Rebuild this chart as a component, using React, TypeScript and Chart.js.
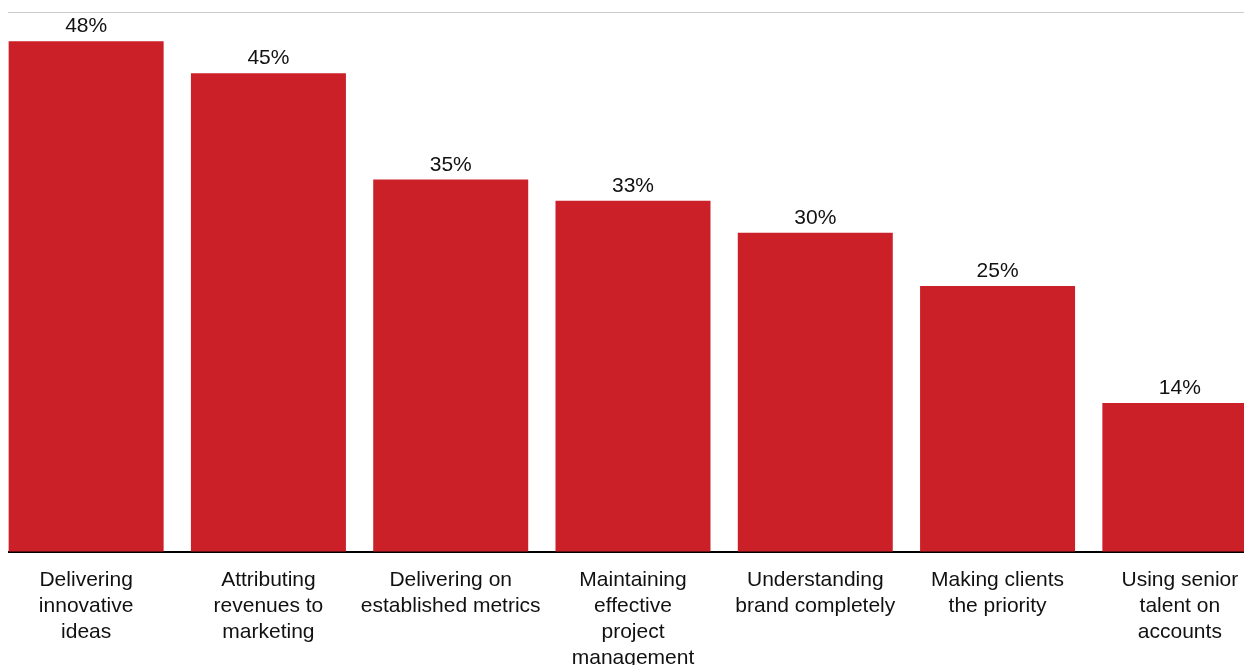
import React, { useEffect, useRef } from "react";
import { Chart, registerables } from "chart.js";

Chart.register(...registerables);

const categories: string[][] = [
  ["Delivering", "innovative", "ideas"],
  ["Attributing", "revenues to", "marketing"],
  ["Delivering on", "established metrics"],
  ["Maintaining", "effective", "project", "management"],
  ["Understanding", "brand completely"],
  ["Making clients", "the priority"],
  ["Using senior", "talent on", "accounts"],
];
const values: number[] = [48, 45, 35, 33, 30, 25, 14];
const valueSuffix = "%";
const Y_MAX = 50.75;

const FONT = "'Liberation Sans', Arial, Helvetica, sans-serif";
const TEXT = "#111111";
const BAR = "#cc2029";

const valueLabels = {
  id: "valueLabels",
  afterDatasetsDraw(chart: any) {
    const ctx = chart.ctx;
    const meta = chart.getDatasetMeta(0);
    ctx.save();
    ctx.font = `21px ${FONT}`;
    ctx.fillStyle = TEXT;
    ctx.textAlign = "center";
    ctx.textBaseline = "alphabetic";
    meta.data.forEach((el: any, i: number) => {
      ctx.fillText(`${values[i]}${valueSuffix}`, el.x, el.y - 9);
    });
    ctx.restore();
  },
};

export default function App() {
  const ref = useRef<HTMLCanvasElement | null>(null);
  useEffect(() => {
    if (!ref.current) return;
    const chart = new Chart(ref.current, {
      type: "bar",
      data: {
        labels: categories,
        datasets: [
          {
            data: values,
            backgroundColor: BAR,
            borderWidth: 0,
            categoryPercentage: 1,
            barPercentage: 155 / 182.29,
          },
        ],
      },
      options: {
        animation: false,
        responsive: true,
        maintainAspectRatio: false,
        layout: { padding: { top: 12, left: 0, right: 0, bottom: 0 } },
        plugins: {
          legend: { display: false },
          tooltip: { enabled: false },
        },
        scales: {
          x: {
            z: 1,
            offset: true,
            grid: { display: false, drawTicks: false },
            border: { display: true, color: "#000000", width: 2 },
            ticks: {
              autoSkip: false,
              maxRotation: 0,
              minRotation: 0,
              padding: 15,
              color: TEXT,
              font: { family: FONT, size: 21, lineHeight: 26 / 21 },
            },
          },
          y: {
            min: 0,
            max: Y_MAX,
            afterBuildTicks: (scale: any) => {
              scale.ticks = [{ value: 0 }, { value: Y_MAX }];
            },
            grid: {
              drawTicks: false,
              lineWidth: 1,
              color: (c: any) =>
                c.tick && c.tick.value === Y_MAX ? "#cccccc" : "rgba(0,0,0,0)",
            },
            border: { display: false },
            ticks: { display: false },
          },
        },
      },
      plugins: [valueLabels],
    });
    return () => chart.destroy();
  }, []);

  return (
    <div
      style={{
        position: "fixed",
        left: 8,
        top: 0,
        width: 1236,
        height: 665,
        overflow: "hidden",
        background: "#ffffff",
      }}
    >
      <div style={{ position: "absolute", left: -13, top: 0, width: 1276, height: 686 }}>
        <canvas ref={ref} />
      </div>
    </div>
  );
}
